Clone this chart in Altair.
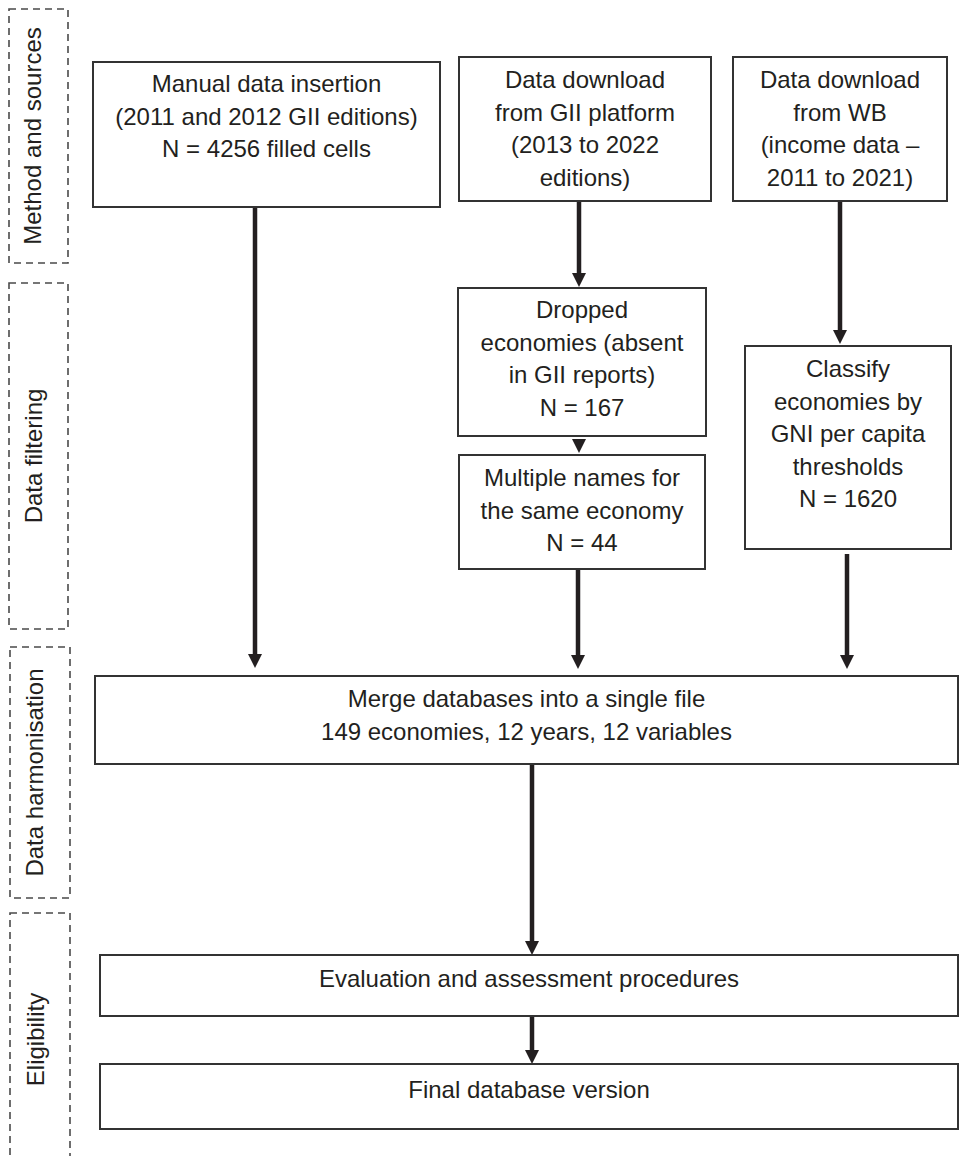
import altair as alt
import pandas as pd

# ---------------- content ----------------
stage_labels = ["Method and sources", "Data filtering", "Data harmonisation", "Eligibility"]

box_ids = ["A", "B", "C", "D", "E", "F", "G", "H", "I"]
box_lines = [
    ["Manual data insertion", "(2011 and 2012 GII editions)", "N = 4256 filled cells"],
    ["Data download", "from GII platform", "(2013 to 2022", "editions)"],
    ["Data download", "from WB", "(income data \u2013", "2011 to 2021)"],
    ["Dropped", "economies (absent", "in GII reports)", "N = 167"],
    ["Multiple names for", "the same economy", "N = 44"],
    ["Classify", "economies by", "GNI per capita", "thresholds", "N = 1620"],
    ["Merge databases into a single file", "149 economies, 12 years, 12 variables"],
    ["Evaluation and assessment procedures"],
    ["Final database version"],
]

flow_from = ["A", "B", "C", "D", "E", "F", "G", "H"]
flow_to = ["G", "D", "F", "E", "G", "G", "H", "I"]

# ---------------- layout (page pixels) ----------------
stage_x0 = [9, 9, 10, 10]
stage_x1 = [68, 68, 70, 70]
stage_y0 = [9, 283, 647, 913]
stage_y1 = [263, 629, 898, 1190]
stage_text_x = [41, 42, 43, 44]

box_x0 = [93, 459, 733, 458, 459, 745, 95, 100, 100]
box_x1 = [440, 711, 947, 706, 705, 951, 958, 958, 958]
box_y0 = [62, 57, 57, 288, 455, 346, 676, 955, 1064]
box_y1 = [207, 201, 201, 436, 569, 549, 764, 1016, 1129]
first_line_y = [85, 81, 81, 311, 479, 370, 700, 980, 1091]
line_gap = 32.5

arrow_x = [255, 579, 840, 579, 578, 847, 532, 532]
arrow_y0 = [207, 201, 201, 439, 569, 554, 764, 1016]
arrow_tip = [668, 287, 344, 453, 669, 669, 955, 1064]
head = 14

# ---------------- tables ----------------
stages = pd.DataFrame({
    "label": stage_labels, "x0": stage_x0, "x1": stage_x1,
    "y0": stage_y0, "y1": stage_y1, "tx": stage_text_x,
})
stages["ty"] = (stages["y0"] + stages["y1"].clip(upper=1166)) / 2

boxes = pd.DataFrame({"id": box_ids, "x0": box_x0, "x1": box_x1, "y0": box_y0, "y1": box_y1})

rows = []
for i, lines in enumerate(box_lines):
    cx = (box_x0[i] + box_x1[i]) / 2
    for k, t in enumerate(lines):
        rows.append({"text": t, "x": cx, "y": first_line_y[i] + k * line_gap})
texts = pd.DataFrame(rows)

arrows = pd.DataFrame({"from": flow_from, "to": flow_to, "x": arrow_x,
                       "y0": arrow_y0, "tip": arrow_tip})
arrows["base"] = arrows["tip"] - head
arrows["hy"] = arrows["tip"] - head / 2
shafts = arrows[arrows["base"] > arrows["y0"]]

X = alt.Scale(domain=[8, 960], range=[0, 952], nice=False, zero=False)
Y = alt.Scale(domain=[8, 1156], range=[0, 1148], nice=False, zero=False)

FONT = "Liberation Sans"
INK = "#231f20"

stage_rect = alt.Chart(stages).mark_rect(
    filled=False, stroke="#4a4a4a", strokeWidth=1.6, strokeDash=[7, 5], clip=True
).encode(
    x=alt.X("x0:Q", scale=X, axis=None), x2="x1:Q",
    y=alt.Y("y0:Q", scale=Y, axis=None), y2="y1:Q",
)

stage_text = alt.Chart(stages).mark_text(
    angle=270, align="center", baseline="alphabetic", font=FONT, fontSize=24, color=INK
).encode(
    x=alt.X("tx:Q", scale=X), y=alt.Y("ty:Q", scale=Y), text="label:N"
)

box_rect = alt.Chart(boxes).mark_rect(
    fill="white", stroke="#333333", strokeWidth=2
).encode(
    x=alt.X("x0:Q", scale=X), x2="x1:Q",
    y=alt.Y("y0:Q", scale=Y), y2="y1:Q",
)

box_text = alt.Chart(texts).mark_text(
    align="center", baseline="middle", font=FONT, fontSize=24, color=INK
).encode(
    x=alt.X("x:Q", scale=X), y=alt.Y("y:Q", scale=Y), text="text:N"
)

shaft = alt.Chart(shafts).mark_rule(strokeWidth=4.5, color=INK).encode(
    x=alt.X("x:Q", scale=X), y=alt.Y("y0:Q", scale=Y), y2="base:Q"
)

heads = alt.Chart(arrows).mark_point(
    shape="M-1,-1L1,-1L0,1Z", filled=True, size=head * head, color=INK, opacity=1, strokeWidth=0
).encode(
    x=alt.X("x:Q", scale=X), y=alt.Y("hy:Q", scale=Y)
)

chart = alt.layer(
    stage_rect, stage_text, shaft, heads, box_rect, box_text
).properties(
    width=952, height=1148, padding=0, autosize=alt.AutoSizeParams(type="none"),
    background="white",
).configure_view(stroke=None)

chart.save("out.html", embed_options={"renderer": "svg", "actions": False})
